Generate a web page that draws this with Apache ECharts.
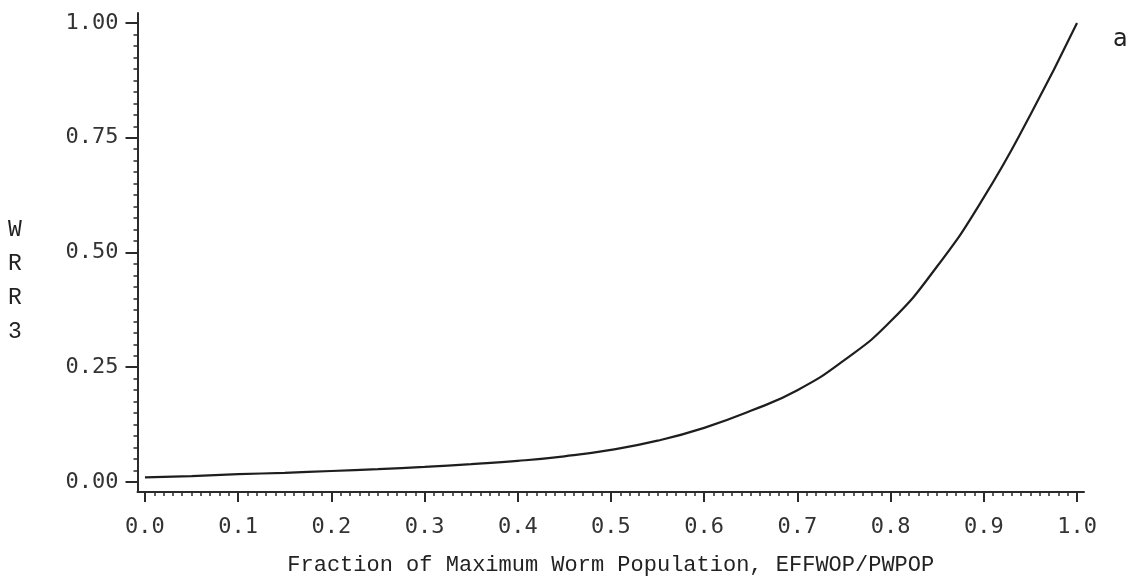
<!DOCTYPE html>
<html>
<head>
<meta charset="utf-8">
<script src="https://cdn.jsdelivr.net/npm/echarts@6/dist/echarts.min.js"></script>
<style>
html,body{margin:0;padding:0;background:#fff;}
#c{width:1145px;height:585px;}
</style>
</head>
<body>
<div id="c"></div>
<script>
// ---- data ----
const xValues = [0.00,0.05,0.10,0.15,0.20,0.25,0.30,0.35,0.40,0.45,0.50,0.55,0.60,0.65,0.70,0.75,0.80,0.85,0.90,0.95,1.00];
const wrr3    = [0.010,0.013,0.017,0.020,0.024,0.028,0.033,0.039,0.046,0.056,0.070,0.090,0.118,0.155,0.200,0.265,0.350,0.470,0.620,0.800,1.000];
const xTicks = [0,0.1,0.2,0.3,0.4,0.5,0.6,0.7,0.8,0.9,1.0];
const xTickLabels = ['0.0','0.1','0.2','0.3','0.4','0.5','0.6','0.7','0.8','0.9','1.0'];
const yTicks = [0,0.25,0.5,0.75,1.0];
const yTickLabels = ['0.00','0.25','0.50','0.75','1.00'];
const xTitle = 'Fraction of Maximum Worm Population, EFFWOP/PWPOP';
const yTitle = 'W\nR\nR\n3';
const panelLetter = 'a';

// minor tick positions
const xMinor = [];
for (let i = 0; i <= 100; i++) { if (i % 10 !== 0) xMinor.push(i / 100); }
const yMinor = [];
for (let i = 0; i <= 40; i++) { if (i % 10 !== 0) yMinor.push(i / 40); }

const ink = '#2a2a2a';
const tickFont = {fontFamily:'DejaVu Sans Mono', fontSize:22, color:'#333'};

const chart = echarts.init(document.getElementById('c'), null, {renderer:'canvas'});
const X_MIN = -0.008, X_MAX = 1.0075, Y_MIN = -0.0218, Y_MAX = 1.0218;

chart.setOption({
  animation:false,
  backgroundColor:'#fff',
  grid:{left:137.5, right:61, top:13, bottom:93, containLabel:false},
  xAxis:[
    {type:'value', position:'bottom', min:X_MIN, max:X_MAX,
     axisLine:{show:true, onZero:false, lineStyle:{color:ink, width:2}},
     axisTick:{show:true, customValues:xTicks, length:10, lineStyle:{color:ink, width:2}},
     axisLabel:{show:true, customValues:xTicks, margin:24,
       formatter:(v)=>xTickLabels[Math.round(v*10)], ...tickFont},
     splitLine:{show:false},
     name:xTitle, nameLocation:'middle', nameGap:62,
     nameTextStyle:{fontFamily:'Liberation Mono', fontSize:22, color:'#222'}},
    {type:'value', position:'bottom', min:X_MIN, max:X_MAX,
     axisLine:{show:false, onZero:false},
     axisTick:{show:true, customValues:xMinor, length:4, lineStyle:{color:ink, width:1.5}},
     axisLabel:{show:false}, splitLine:{show:false}}
  ],
  yAxis:[
    {type:'value', position:'left', min:Y_MIN, max:Y_MAX,
     axisLine:{show:true, onZero:false, lineStyle:{color:ink, width:2}},
     axisTick:{show:true, customValues:yTicks, length:12, lineStyle:{color:ink, width:2}},
     axisLabel:{show:true, customValues:yTicks, margin:19,
       formatter:(v)=>yTickLabels[Math.round(v*4)], ...tickFont},
     splitLine:{show:false}},
    {type:'value', position:'left', min:Y_MIN, max:Y_MAX,
     axisLine:{show:false, onZero:false},
     axisTick:{show:true, customValues:yMinor, length:4, lineStyle:{color:ink, width:1.5}},
     axisLabel:{show:false}, splitLine:{show:false}}
  ],
  graphic:[
    {type:'text', left:8, top:213, style:{text:yTitle, font:'23px "Liberation Mono"', fill:'#222', lineHeight:34, align:'left'}},
    {type:'text', left:1113, top:28, style:{text:panelLetter, font:'24px "DejaVu Sans"', fill:'#222'}}
  ],
  series:[{
    type:'line', xAxisIndex:0, yAxisIndex:0, smooth:true, symbol:'none',
    lineStyle:{color:'#1e1e1e', width:2.2},
    data:xValues.map((x,i)=>[x, wrr3[i]])
  }]
});
</script>
</body>
</html>
